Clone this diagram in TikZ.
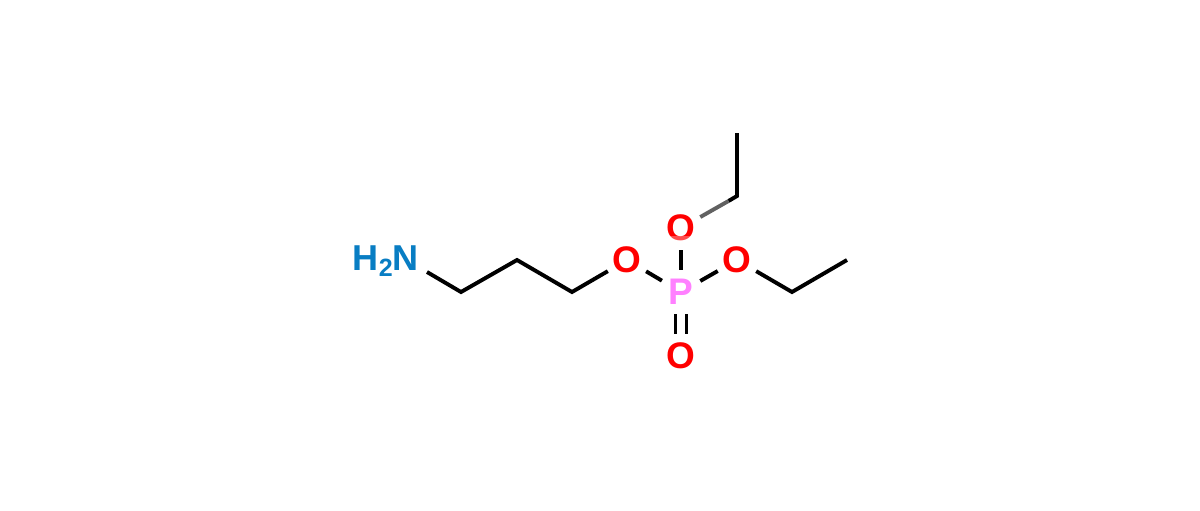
\documentclass[tikz,border=0pt]{standalone}
\usepackage{fontspec}
\setmainfont{Liberation Sans}
\definecolor{oxy}{RGB}{255,0,0}
\definecolor{nit}{RGB}{8,125,195}
\definecolor{pho}{RGB}{255,128,255}
\tikzset{
  atom/.style={circle,inner sep=0pt,minimum size=44pt,font=\bfseries\fontsize{37}{37}\selectfont},
  bondline/.style={draw=black,line width=3.9pt},
  greybond/.style={draw=black!62,line width=3.9pt},
}
\begin{document}
\begin{tikzpicture}[x=1pt,y=-1pt]
\useasboundingbox (0,0) rectangle (1200,511);
\fill[white] (0,0) rectangle (1200,511);
\node[atom,text=oxy] (O1) at (627,260) {O};
\node[atom,text=oxy] (O2) at (681,228) {O};
\node[atom,text=oxy] (O3) at (737,260) {O};
\node[atom,text=oxy] (O4) at (681,356) {O};
\node[atom,text=pho] (P) at (681,292) {P};
\node[font=\bfseries\fontsize{36}{36}\selectfont,text=nit,inner sep=0pt,anchor=east] (N) at (419,261) {H\raisebox{-6.5pt}{\fontsize{25}{25}\selectfont 2}N};
\coordinate (n1) at (427,272);
\coordinate (c1) at (461,292);
\coordinate (c2) at (517,260);
\coordinate (c3) at (572,292);
\coordinate (c4) at (737,196);
\coordinate (c5) at (737,133);
\coordinate (c6) at (792,292);
\coordinate (c7) at (847,260);
\coordinate (g1) at (728.5,201);
\draw[bondline,line join=miter] (n1) -- (c1) -- (c2) -- (c3) -- (O1);
\draw[bondline] (O1) -- (P);
\draw[bondline] (P) -- (O2);
\draw[bondline] (P) -- (O3);
\draw[bondline,line join=miter] (O3) -- (c6) -- (c7);
\draw[bondline] ([xshift=-5.5pt]P.south) -- ([xshift=-5.5pt]O4.north);
\draw[bondline] ([xshift=5.5pt]P.south) -- ([xshift=5.5pt]O4.north);
\draw[bondline] (c5) -- (c4) -- (g1);
\draw[greybond] (g1) -- (O2);
\fill[white,opacity=.3] (664,235.5) rectangle (698,244);
\end{tikzpicture}
\end{document}
